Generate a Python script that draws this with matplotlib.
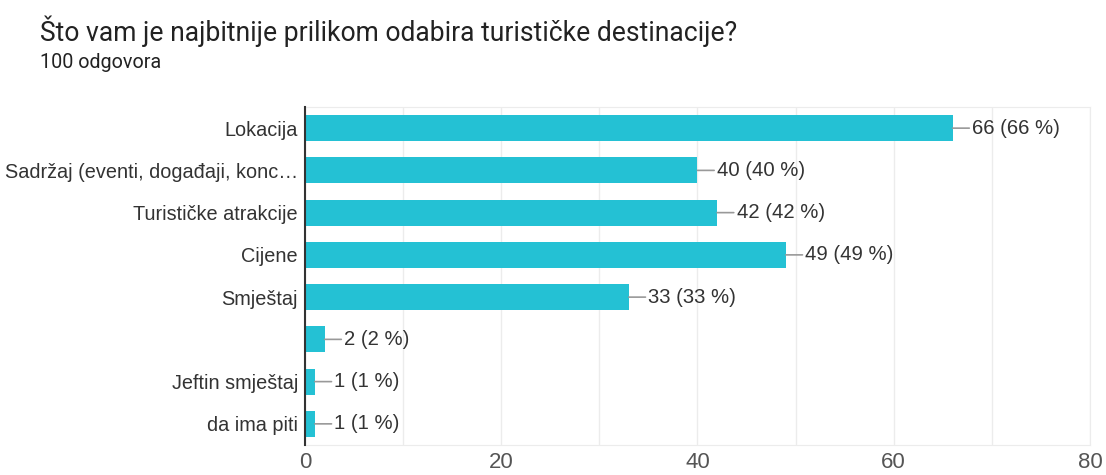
import matplotlib
matplotlib.use("Agg")
import matplotlib.pyplot as plt
from matplotlib.ticker import MultipleLocator

plt.rcParams['font.family'] = ['Liberation Sans', 'DejaVu Sans']

# podaci
kategorije = ["Lokacija", "Sadržaj (eventi, događaji, konc…", "Turističke atrakcije",
              "Cijene", "Smještaj", "", "Jeftin smještaj", "da ima piti"]
odgovori = [66, 40, 42, 49, 33, 2, 1, 1]
ukupno = 100

boja = '#24c1d4'

fig = plt.figure(figsize=(11.06, 4.75), dpi=100)
ax = fig.add_axes([0.2758, 0.0632, 0.7097, 0.7115])

y = list(range(len(kategorije)))
ax.barh(y, odgovori, height=0.62, color=boja, zorder=3)

# oznake s crticom
for i, v in enumerate(odgovori):
    ax.annotate("%d (%d %%)" % (v, round(v * 100 / ukupno)), xy=(v, i), xytext=(14, 0),
                textcoords='offset points', va='center', ha='left', fontsize=14.6, color='#333333',
                arrowprops=dict(arrowstyle='-', color='#999999', lw=1.2, shrinkA=0, shrinkB=0))

ax.set_xlim(0, 80)
ax.set_ylim(len(kategorije) - 0.5, -0.5)
ax.set_yticks(y)
ax.set_yticklabels(kategorije, fontsize=14.3, color='#333333')
ax.xaxis.set_major_locator(MultipleLocator(20))
ax.xaxis.set_minor_locator(MultipleLocator(10))
# oznake osi x malo podignute da ne budu odrezane
ax.tick_params(axis='x', which='both', length=0, labelsize=16, labelcolor='#555555', pad=5)
ax.tick_params(axis='y', length=0, pad=5)

ax.grid(True, axis='x', which='both', color='#ececec', lw=1, zorder=0)
for s in ['top', 'right', 'bottom']:
    ax.spines[s].set_color('#ececec')
ax.spines['left'].set_color('#333333')
ax.spines['left'].set_linewidth(1.5)
ax.spines['left'].set_zorder(4)

fig.text(0.036, 0.935, "Što vam je najbitnije prilikom odabira turističke destinacije?",
         fontsize=19.1, color='#222222', va='center', family='Roboto')
fig.text(0.036, 0.868, "100 odgovora", fontsize=14.2, color='#222222', va='center', family='Roboto')

fig.savefig("out.png", dpi=100, facecolor='white')
